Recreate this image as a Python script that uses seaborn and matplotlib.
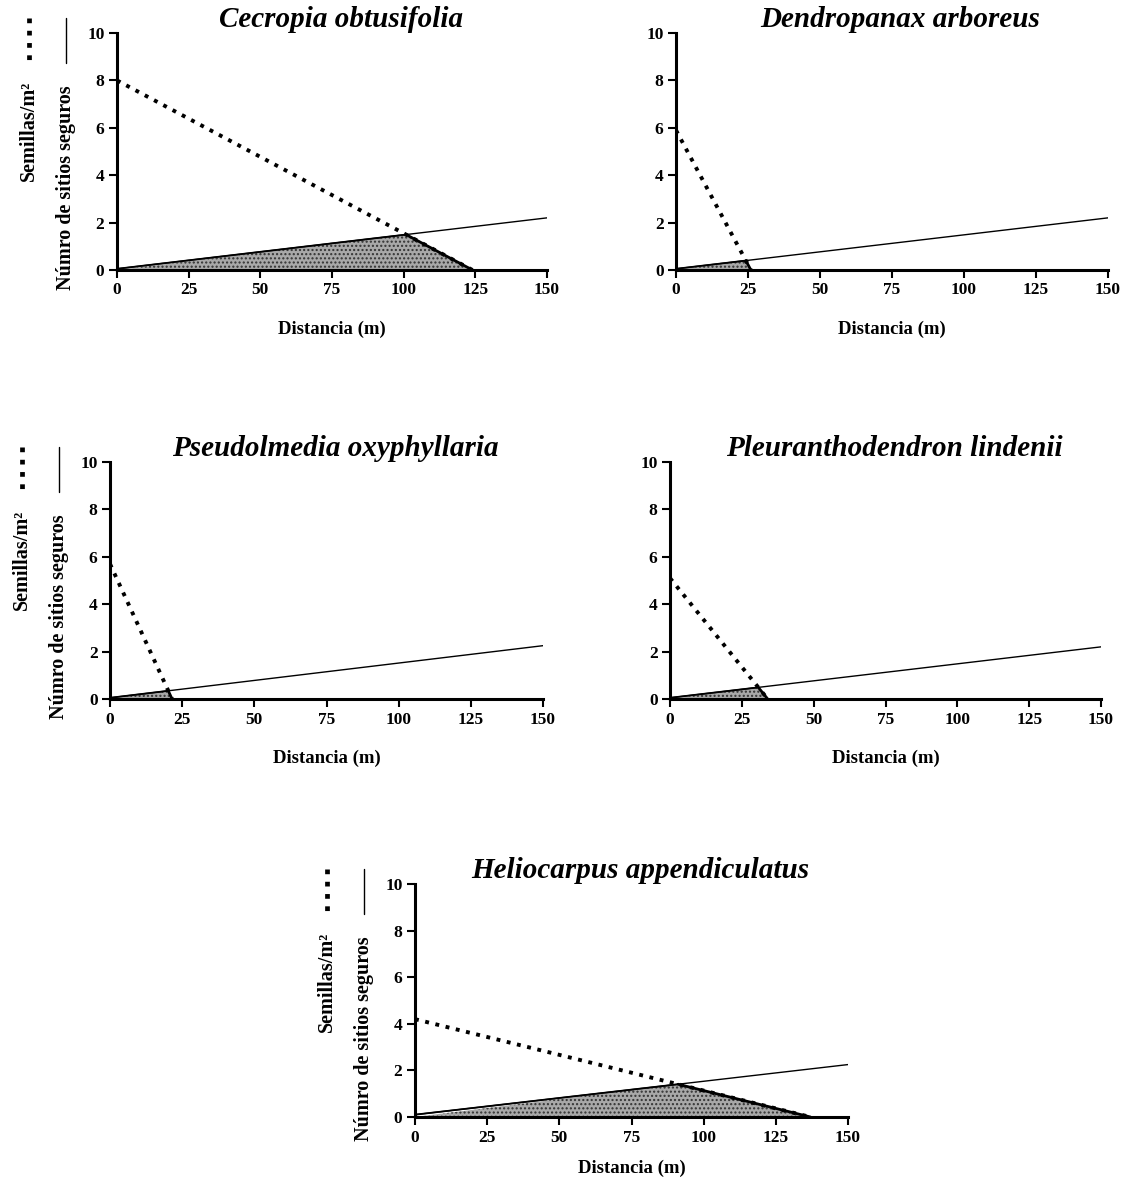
import numpy as np
import pandas as pd
import matplotlib.pyplot as plt
import seaborn as sns
from matplotlib.lines import Line2D

# species shown in each panel
species = ["Cecropia obtusifolia", "Dendropanax arboreus", "Pseudolmedia oxyphyllaria",
           "Pleuranthodendron lindenii", "Heliocarpus appendiculatus"]

# seed density line (Semillas/m2): value at 0 m and distance where it reaches 0
seed_start = [8.0, 5.9, 5.7, 5.1, 4.2]
seed_end_x = [124, 26, 21.5, 34, 137]

# safe sites line (Numero de sitios seguros): value at 0 m and at 150 m
safe_start = [0.05, 0.05, 0.05, 0.05, 0.1]
safe_end = [2.2, 2.2, 2.25, 2.2, 2.25]

x_max = 150
x_ticks = [0, 25, 50, 75, 100, 125, 150]
y_ticks = [0, 2, 4, 6, 8, 10]

sns.set_style("ticks")
plt.rcParams["font.family"] = ["Liberation Serif", "DejaVu Serif"]
plt.rcParams["font.weight"] = "bold"
plt.rcParams["text.color"] = "black"
plt.rcParams["axes.labelcolor"] = "black"
plt.rcParams["xtick.color"] = "black"
plt.rcParams["ytick.color"] = "black"

W, H = 1126, 1185
fig = plt.figure(figsize=(W / 100, H / 100), dpi=100)

# axes boxes in pixels: left, top, right, bottom
boxes = [(117, 33, 547, 270), (676, 33, 1108, 270),
         (110, 462, 543, 699), (670, 462, 1101, 699),
         (415, 884, 848, 1117)]
with_ylabel = [True, False, True, False, True]
xlabel_pad = [16, 16, 16, 16, 10]

dots = (0, (1, 1.7))

for i, name in enumerate(species):
    l, t, r, b = boxes[i]
    ax = fig.add_axes([l / W, 1 - b / H, (r - l) / W, (b - t) / H])

    seeds = pd.DataFrame({"x": [0, seed_end_x[i]], "y": [seed_start[i], 0]})
    safe = pd.DataFrame({"x": [0, x_max], "y": [safe_start[i], safe_end[i]]})

    # crossing point of the two lines
    xc = (seed_start[i] - safe_start[i]) / (
        seed_start[i] / seed_end_x[i] + (safe_end[i] - safe_start[i]) / x_max)
    yc = safe_start[i] + (safe_end[i] - safe_start[i]) * xc / x_max

    # shaded region (stippled)
    ax.fill([0, xc, seed_end_x[i], 0], [0, yc, 0, 0], facecolor="#a8a8a8",
            edgecolor="#333333", hatch="....", linewidth=0, zorder=1)

    sns.lineplot(data=safe, x="x", y="y", ax=ax, color="black", linewidth=1.0,
                 zorder=3)
    sns.lineplot(data=seeds, x="x", y="y", ax=ax, color="black", linewidth=2.8,
                 linestyle=dots, dash_capstyle="butt", zorder=3)
    # edge of the shaded area along the seed line
    ax.plot([xc, seed_end_x[i]], [yc, 0], color="black", linewidth=2.0, zorder=4)
    ax.plot([0, xc], [safe_start[i], yc], color="black", linewidth=1.3, zorder=4)

    ax.set_xlim(0, x_max)
    ax.set_ylim(0, 10)
    ax.set_xticks(x_ticks)
    ax.set_yticks(y_ticks)
    ax.set_xticklabels([str(v) for v in x_ticks], fontsize=12.5, fontweight="bold")
    ax.set_yticklabels([str(v) for v in y_ticks], fontsize=12.5, fontweight="bold")
    ax.tick_params(direction="out", length=6, width=1.5, color="black", pad=3)
    for side in ["left", "bottom"]:
        ax.spines[side].set_linewidth(2.2)
        ax.spines[side].set_color("black")
    sns.despine(ax=ax)
    ax.set_ylabel("")
    ax.set_xlabel("Distancia (m)", fontsize=13.5, fontweight="bold",
                  labelpad=xlabel_pad[i])
    ax.set_title(name, fontsize=21, fontweight="bold", fontstyle="italic",
                 pad=-5, x=0.52)
    ax.margins(0)

    if with_ylabel[i]:
        x1 = l - 88
        x2 = l - 51
        fig.add_artist(Line2D([x1 / W, x1 / W], [1 - (t - 15) / H, 1 - (t + 30) / H],
                              color="black", linewidth=3.4, linestyle=(0, (1, 1.6)),
                              dash_capstyle="butt"))
        fig.add_artist(Line2D([x2 / W, x2 / W], [1 - (t - 15) / H, 1 - (t + 30) / H],
                              color="black", linewidth=1.0))
        fig.text(x1 / W, 1 - (t + 48) / H, "Semillas/m²", rotation=90,
                 ha="center", va="top", fontsize=14.5, fontweight="bold")
        fig.text(x2 / W, 1 - (t + 52) / H, "Númro de sitios seguros", rotation=90,
                 ha="center", va="top", fontsize=14.5, fontweight="bold")

fig.savefig("out.png", dpi=100, facecolor="white")
